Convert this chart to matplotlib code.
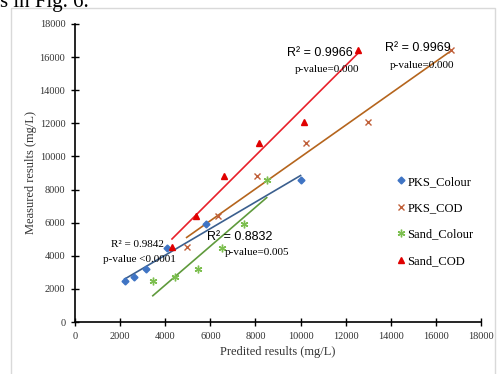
import numpy as np
import matplotlib.pyplot as plt
from matplotlib.patches import Rectangle

# Predicted (x) and measured (y) results, mg/L
pks_colour_x = [2200, 2600, 3150, 4100, 5800, 10000]
pks_colour_y = [2450, 2700, 3200, 4450, 5900, 8600]
pks_cod_x = [4950, 6350, 8050, 10250, 13000, 16650]
pks_cod_y = [4550, 6400, 8800, 10800, 12050, 16450]
sand_colour_x = [3450, 4450, 5450, 6500, 7500, 8500]
sand_colour_y = [2450, 2700, 3200, 4450, 5900, 8600]
sand_cod_x = [4300, 5350, 6600, 8150, 10150, 12550]
sand_cod_y = [4550, 6400, 8800, 10800, 12050, 16450]

serif = 'Liberation Serif'
sans = 'Liberation Sans'

fig = plt.figure(figsize=(5.0, 3.74), dpi=100)
ax = fig.add_axes([0.15, 0.139, 0.812, 0.797])

# light frame of the pasted chart and the cut-off line of text above it
fig.patches.append(Rectangle((0.022, -0.05), 0.968, 1.029, transform=fig.transFigure,
                             fill=False, edgecolor='#d9d9d9', linewidth=1.0))
fig.text(0.0, 0.993, 's in Fig. 6.', fontsize=15, family=serif, va='center', ha='left')


def trend(x, y, color):
    k, b = np.polyfit(x, y, 1)
    xs = np.array([min(x), max(x)])
    ax.plot(xs, k * xs + b, color=color, linewidth=1.2)


trend(pks_colour_x, pks_colour_y, '#3b5f8e')
trend(pks_cod_x, pks_cod_y, '#b5651d')
trend(sand_colour_x, sand_colour_y, '#5f9a3c')
trend(sand_cod_x, sand_cod_y, '#e8202a')

h1, = ax.plot(pks_colour_x, pks_colour_y, 'D', color='#3f74c4', markersize=3.5, label='PKS_Colour')
h2, = ax.plot(pks_cod_x, pks_cod_y, 'x', color='#c0603a', markersize=4.5, markeredgewidth=1.0, label='PKS_COD')
h3, = ax.plot(sand_colour_x, sand_colour_y, marker=(6, 2, 0), linestyle='none', color='#7cbf4f',
              markersize=5.5, markeredgewidth=1.0, label='Sand_Colour')
h4, = ax.plot(sand_cod_x, sand_cod_y, '^', color='#e00000', markersize=5, label='Sand_COD')

ax.text(10850, 16250, 'R² = 0.9966', family=sans, fontsize=9, ha='center', va='center')
ax.text(11170, 15220, 'p-value=0.000', family=serif, fontsize=8, ha='center', va='center')
ax.text(15180, 16530, 'R² = 0.9969', family=sans, fontsize=9, ha='center', va='center')
ax.text(15400, 15520, 'p-value=0.000', family=serif, fontsize=8, ha='center', va='center')
ax.text(2790, 4690, 'R² = 0.9842', family=serif, fontsize=8, ha='center', va='center')
ax.text(2840, 3800, 'p-value <0.0001', family=serif, fontsize=8, ha='center', va='center')
ax.text(7310, 5120, 'R² = 0.8832', family=sans, fontsize=9, ha='center', va='center')
ax.text(8090, 4210, 'p-value=0.005', family=serif, fontsize=8, ha='center', va='center')

ax.set_xlim(0, 18000)
ax.set_ylim(0, 18000)
ax.set_xticks(np.arange(0, 18001, 2000))
ax.set_yticks(np.arange(0, 18001, 2000))
ax.tick_params(direction='inout', length=6, width=1, labelsize=7.5, pad=4)
for lab in ax.get_xticklabels() + ax.get_yticklabels():
    lab.set_family(serif)
    lab.set_color('#333333')
ax.spines['top'].set_visible(False)
ax.spines['right'].set_visible(False)
ax.spines['left'].set_linewidth(1.2)
ax.spines['bottom'].set_linewidth(1.2)

ax.set_xlabel('Predited results (mg/L)', family=serif, fontsize=9, color='#333333', labelpad=4)
ax.set_ylabel('Measured results (mg/L)', family=serif, fontsize=9, color='#333333', labelpad=2)

fig.legend(handles=[h1, h2, h3, h4], loc='upper left', bbox_to_anchor=(0.795, 0.53),
           frameon=False, prop={'family': serif, 'size': 9}, handlelength=0.6,
           handletextpad=0.2, labelspacing=1.15, borderpad=0, borderaxespad=0)

fig.savefig('out.png', dpi=100)
